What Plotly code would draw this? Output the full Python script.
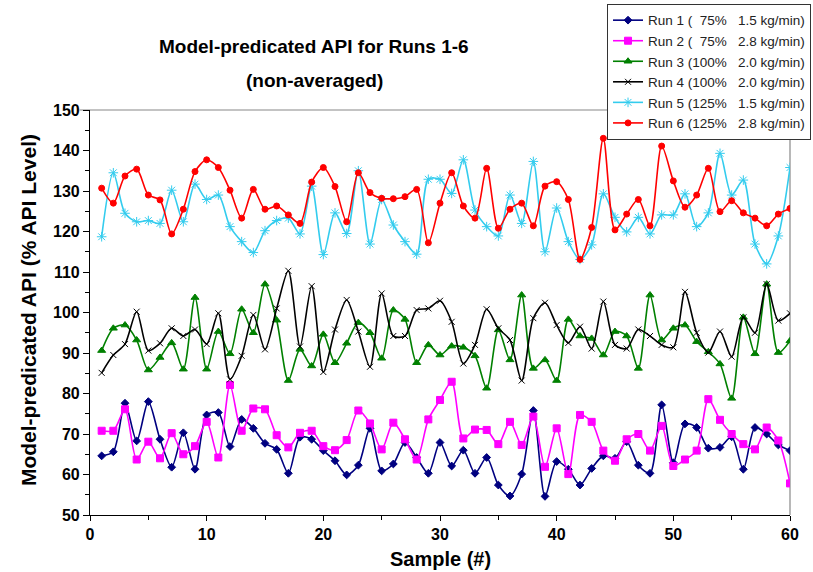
import plotly.graph_objects as go

samples = list(range(1, 61))

run1 = [64.6, 65.6, 77.6, 68.3, 78.0, 68.7, 61.8, 70.3, 61.3, 74.7,
        75.3, 66.9, 73.6, 71.4, 67.7, 66.2, 60.3, 69.2, 68.7, 65.9,
        63.4, 59.9, 62.3, 71.4, 60.9, 62.6, 67.9, 64.2, 60.3, 67.9,
        62.1, 66.0, 60.3, 64.2, 57.4, 54.7, 60.1, 75.8, 54.6, 63.2,
        61.3, 57.4, 61.5, 64.6, 64.0, 68.1, 62.3, 60.3, 77.2, 62.9,
        72.5, 71.6, 66.5, 66.7, 69.3, 61.3, 71.6, 70.0, 67.3, 65.9]

run2 = [70.8, 70.8, 76.1, 63.7, 68.1, 64.0, 70.2, 65.0, 67.0, 73.0,
        64.2, 82.1, 70.8, 76.3, 76.1, 69.7, 66.7, 70.3, 70.8, 67.0,
        66.0, 68.5, 75.8, 72.6, 66.2, 72.8, 68.7, 63.7, 73.6, 78.4,
        82.9, 68.9, 71.1, 71.0, 67.5, 73.0, 67.3, 74.3, 61.9, 71.4,
        60.1, 74.7, 73.0, 65.9, 63.4, 68.7, 70.0, 65.9, 72.0, 62.1,
        63.7, 65.9, 78.6, 73.5, 70.0, 67.5, 66.2, 71.6, 68.4, 57.8]

run3 = [90.6, 96.1, 96.9, 93.2, 85.8, 88.9, 92.5, 86.0, 103.7, 86.0,
        95.3, 89.8, 100.8, 95.0, 107.0, 98.1, 83.2, 90.9, 86.8, 94.6,
        87.6, 92.4, 97.5, 95.0, 88.7, 100.6, 98.3, 87.6, 92.0, 89.5,
        91.7, 91.4, 89.3, 81.3, 95.7, 88.3, 104.3, 86.2, 88.3, 83.2,
        98.3, 94.2, 93.6, 89.5, 95.3, 94.2, 86.2, 104.3, 93.2, 96.1,
        96.9, 92.8, 90.3, 87.3, 78.8, 98.8, 89.8, 107.0, 90.1, 93.0]

run4 = [85.1, 89.5, 92.2, 100.2, 90.6, 92.4, 96.1, 94.2, 95.8, 92.2,
        99.8, 83.5, 89.3, 99.4, 90.9, 101.0, 110.3, 91.6, 106.5, 85.3,
        95.8, 103.1, 95.3, 86.6, 104.7, 94.2, 94.2, 100.6, 101.0, 102.9,
        97.7, 87.4, 92.0, 100.8, 96.1, 93.2, 83.2, 98.6, 102.4, 96.9,
        92.5, 96.5, 91.1, 102.7, 92.0, 91.1, 95.8, 94.2, 92.0, 91.4,
        105.1, 95.0, 90.1, 95.3, 89.1, 98.8, 95.0, 107.0, 98.0, 99.8]

run5 = [118.7, 134.5, 124.5, 122.4, 122.7, 122.0, 130.2, 122.4, 131.7, 127.9,
        129.0, 121.2, 117.5, 114.8, 120.2, 122.7, 123.3, 119.4, 131.2, 114.3,
        124.6, 119.5, 135.0, 116.9, 127.9, 121.6, 117.5, 114.4, 132.9, 132.9,
        129.4, 137.7, 125.3, 121.2, 118.9, 129.0, 122.0, 137.3, 115.0, 125.8,
        117.5, 113.1, 116.7, 129.3, 123.5, 119.9, 123.5, 119.4, 124.1, 124.1,
        129.3, 121.2, 124.6, 139.3, 129.0, 132.7, 116.9, 112.0, 118.9, 135.8]

run6 = [130.7, 127.0, 133.7, 135.4, 129.0, 127.8, 119.4, 125.5, 134.8, 137.7,
        135.8, 130.2, 123.3, 130.4, 125.5, 126.3, 124.1, 122.0, 132.2, 135.8,
        131.1, 122.4, 134.5, 129.6, 128.2, 128.1, 128.6, 130.4, 117.2, 127.0,
        134.5, 126.3, 123.3, 135.6, 120.8, 125.5, 127.0, 121.4, 131.2, 132.3,
        127.9, 113.1, 121.0, 143.0, 120.4, 124.3, 127.9, 121.4, 141.1, 132.5,
        126.0, 129.0, 135.6, 124.9, 127.6, 124.6, 123.3, 121.4, 124.3, 125.7]

NB = "\u00a0"
names = [
    f"Run 1 ({NB}{NB}75%{NB}{NB}{NB}1.5 kg/min)",
    f"Run 2 ({NB}{NB}75%{NB}{NB}{NB}2.8 kg/min)",
    f"Run 3 (100%{NB}{NB}{NB}2.0 kg/min)",
    f"Run 4 (100%{NB}{NB}{NB}2.0 kg/min)",
    f"Run 5 (125%{NB}{NB}{NB}1.5 kg/min)",
    f"Run 6 (125%{NB}{NB}{NB}2.8 kg/min)",
]
series = [run1, run2, run3, run4, run5, run6]
colors = ["#000080", "#FF00FF", "#008000", "#000000", "#33CCEE", "#FF0000"]
symbols = ["diamond", "square", "triangle-up", "x-thin-open", "asterisk-open", "circle"]
msizes = [6, 7, 7, 6, 8, 6]

fig = go.Figure()
for nm, ys, c, sym, ms in zip(names, series, colors, symbols, msizes):
    fig.add_trace(go.Scatter(
        x=samples, y=ys, name=nm, mode="lines+markers",
        line=dict(color=c, width=1.6, shape="spline", smoothing=0.8),
        marker=dict(symbol=sym, size=ms, color=c, line=dict(color=c, width=1)),
    ))

FONT = "Arial, Liberation Sans, sans-serif"

fig.update_layout(
    width=813, height=572,
    margin=dict(l=90, r=23, t=110, b=57, autoexpand=False),
    paper_bgcolor="white", plot_bgcolor="white",
    font=dict(family=FONT, color="black"),
    showlegend=True,
    legend=dict(
        x=0.7386, y=1.262, xanchor="left", yanchor="top",
        bgcolor="white", bordercolor="#333333", borderwidth=1,
        font=dict(family=FONT, size=13.5, color="#222222"),
        tracegroupgap=0, itemsizing="trace",
    ),
    xaxis=dict(
        range=[0, 60], tickvals=[0, 10, 20, 30, 40, 50, 60],
        showgrid=False, zeroline=False,
        showline=True, linecolor="black", linewidth=1.2,
        ticks="outside", ticklen=5, tickcolor="black",
        minor=dict(dtick=5, ticks="outside", ticklen=4, tickcolor="black"),
        tickfont=dict(family=FONT, size=16, weight="bold"),
    ),
    yaxis=dict(
        range=[50, 150], tickvals=[50, 60, 70, 80, 90, 100, 110, 120, 130, 140, 150],
        showgrid=False, zeroline=False,
        showline=True, linecolor="black", linewidth=1.2,
        ticks="outside", ticklen=6, tickcolor="black",
        minor=dict(dtick=5, ticks="outside", ticklen=4, tickcolor="black"),
        tickfont=dict(family=FONT, size=16, weight="bold"),
    ),
    shapes=[
        dict(type="line", xref="paper", yref="paper", x0=-0.015, x1=1, y0=1, y1=1,
             line=dict(color="#888888", width=1.2), layer="below"),
        dict(type="line", xref="paper", yref="paper", x0=1, x1=1, y0=0, y1=1,
             line=dict(color="#888888", width=1.2), layer="below"),
    ],
    annotations=[
        dict(text="<b>Model-predicated API for Runs 1-6</b>", xref="paper", yref="paper",
             x=0.32, y=1.1556, xanchor="center", yanchor="middle", showarrow=False,
             font=dict(family=FONT, size=19, color="black")),
        dict(text="<b>(non-averaged)</b>", xref="paper", yref="paper",
             x=0.32, y=1.074, xanchor="center", yanchor="middle", showarrow=False,
             font=dict(family=FONT, size=19, color="black")),
        dict(text="<b>Model-predicated API (% API Level)</b>", xref="paper", yref="paper",
             x=-0.0886, y=0.506, xanchor="center", yanchor="middle", showarrow=False,
             textangle=-90, font=dict(family=FONT, size=21, color="black")),
        dict(text="<b>Sample (#)</b>", xref="paper", yref="paper",
             x=0.5, y=-0.108, xanchor="center", yanchor="middle", showarrow=False,
             font=dict(family=FONT, size=20, color="black")),
    ],
)

fig.write_html("out.html", config={"displayModeBar": False},
               post_script="document.body.style.margin='0px';")
